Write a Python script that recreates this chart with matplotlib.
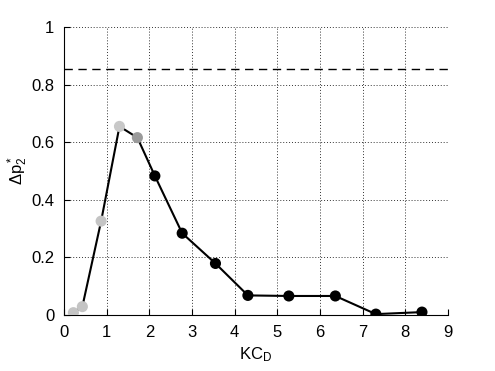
import matplotlib
matplotlib.use('Agg')
import matplotlib.pyplot as plt

plt.rcParams['font.family'] = ['Liberation Sans', 'DejaVu Sans']
plt.rcParams['mathtext.fontset'] = 'custom'
plt.rcParams['mathtext.rm'] = 'Liberation Sans'
plt.rcParams['mathtext.it'] = 'Liberation Sans'

# 数据
kc = [0.22, 0.43, 0.87, 1.30, 1.72, 2.13, 2.77, 3.55, 4.31, 5.27, 6.36, 7.31, 8.39]
dp = [0.008, 0.029, 0.326, 0.655, 0.616, 0.483, 0.284, 0.179, 0.068, 0.066, 0.066, 0.003, 0.010]
colors = ['#c4c4c4', '#c4c4c4', '#c4c4c4', '#c8c8c8', '#9a9a9a',
          'k', 'k', 'k', 'k', 'k', 'k', 'k', 'k']
ref_level = 0.853

fig = plt.figure(figsize=(4.95, 3.71), dpi=100)
ax = fig.add_axes([0.1293, 0.151, 0.7757, 0.776])

ax.plot(kc, dp, color='k', linewidth=1.5, zorder=3)
ax.scatter(kc, dp, s=64, c=colors, zorder=4, edgecolors='none')
ax.axhline(ref_level, color='k', linestyle=(0, (6, 4)), linewidth=1.0, zorder=2)

ax.set_xlim(0, 9)
ax.set_ylim(0, 1)
ax.set_xticks(range(10))
ax.set_yticks([0, 0.2, 0.4, 0.6, 0.8, 1])
ax.set_yticklabels(['0', '0.2', '0.4', '0.6', '0.8', '1'])
ax.grid(True, color='#333333', linestyle=(0, (1, 2)), linewidth=0.7)
ax.set_axisbelow(True)
ax.spines['top'].set_visible(False)
ax.spines['right'].set_visible(False)
ax.tick_params(direction='in', length=4, labelsize=12, pad=7)

ax.set_xlabel('KC$_\\mathrm{D}$', fontsize=12, labelpad=4)
ax.set_ylabel('$\\Delta$p$_2^*$', fontsize=12, labelpad=1)

plt.savefig('out.png', dpi=100)
